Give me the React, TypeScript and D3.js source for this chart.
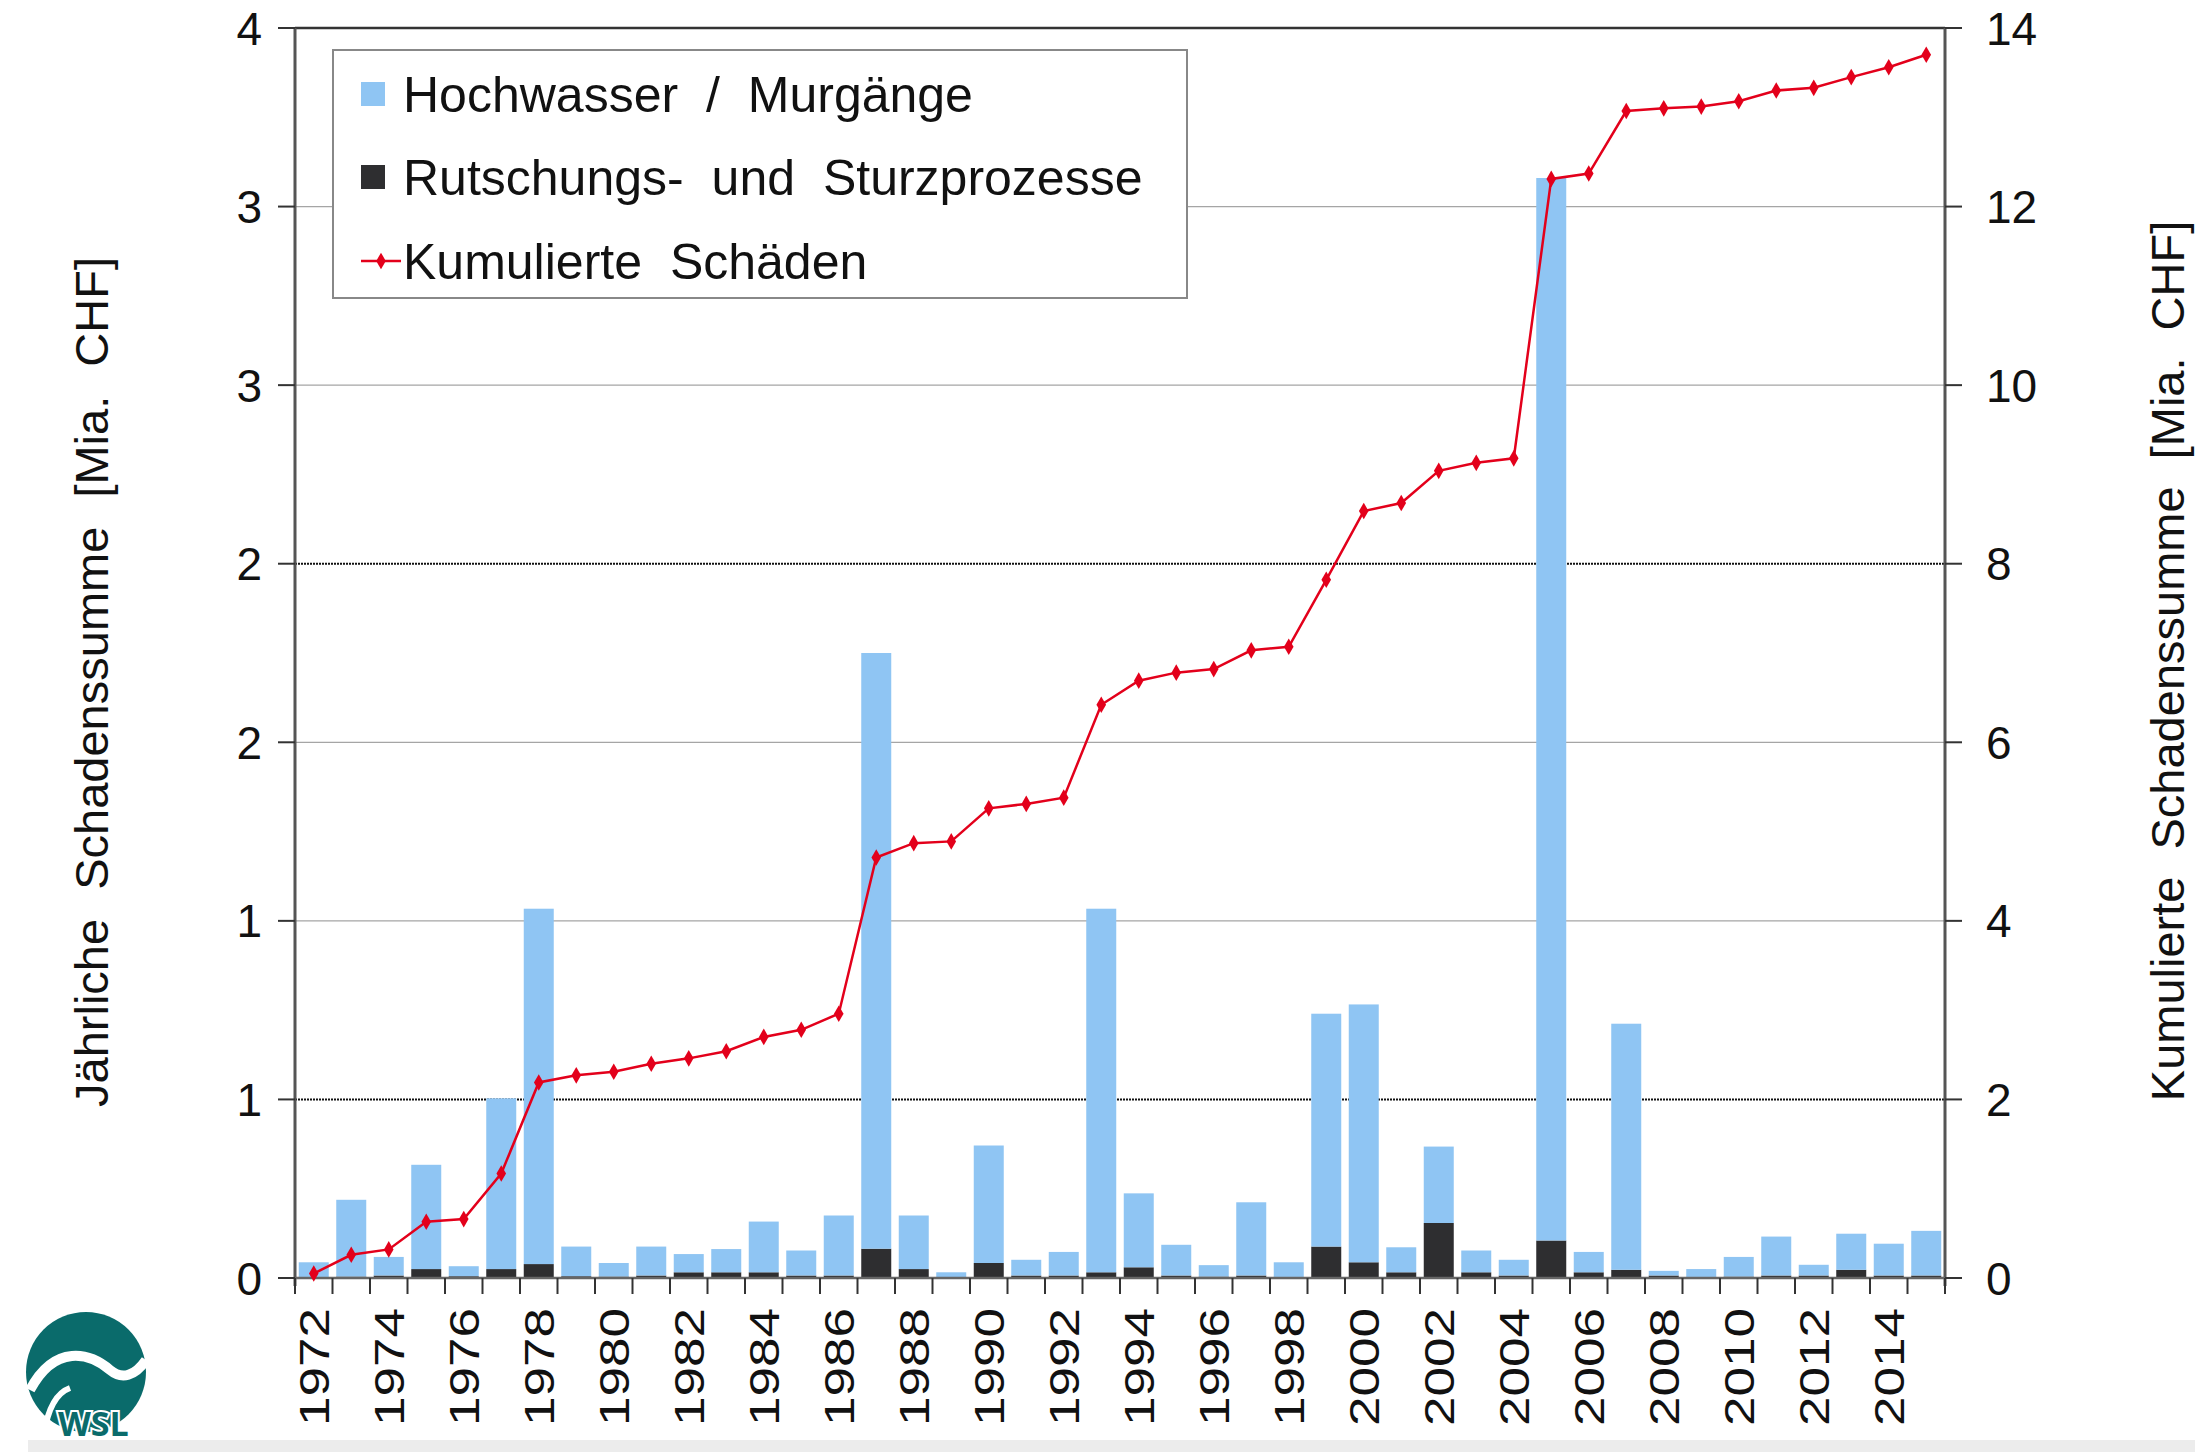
import React, { useRef, useEffect } from "react";
import * as d3 from "d3";

// years (categories)
const years = [
  1972, 1973, 1974, 1975, 1976, 1977, 1978, 1979, 1980, 1981, 1982, 1983,
  1984, 1985, 1986, 1987, 1988, 1989, 1990, 1991, 1992, 1993, 1994, 1995,
  1996, 1997, 1998, 1999, 2000, 2001, 2002, 2003, 2004, 2005, 2006, 2007,
  2008, 2009, 2010, 2011, 2012, 2013, 2014, 2015,
];

// Hochwasser / Murgänge [Mia. CHF]
const hochwasser = [
  0.041, 0.215, 0.052, 0.292, 0.028, 0.478, 0.995, 0.083, 0.038, 0.081, 0.051,
  0.065, 0.142, 0.07, 0.168, 1.668, 0.15, 0.014, 0.329, 0.044, 0.066, 1.018,
  0.207, 0.086, 0.032, 0.205, 0.041, 0.652, 0.722, 0.07, 0.214, 0.061, 0.044,
  2.975, 0.057, 0.689, 0.013, 0.022, 0.055, 0.109, 0.03, 0.101, 0.089, 0.125,
];

// Rutschungs- und Sturzprozesse [Mia. CHF]
const rutschung = [
  0.003, 0.004, 0.007, 0.025, 0.005, 0.025, 0.039, 0.005, 0.004, 0.007, 0.016,
  0.016, 0.016, 0.007, 0.007, 0.082, 0.025, 0.002, 0.042, 0.007, 0.007, 0.016,
  0.03, 0.007, 0.004, 0.007, 0.003, 0.088, 0.044, 0.016, 0.154, 0.016, 0.007,
  0.105, 0.016, 0.023, 0.007, 0.003, 0.004, 0.007, 0.007, 0.023, 0.007, 0.007,
];

// Kumulierte Schäden [Mia. CHF]
const kumuliert = [
  0.05, 0.26, 0.32, 0.63, 0.66, 1.17, 2.19, 2.27, 2.31, 2.4, 2.46, 2.54, 2.7,
  2.78, 2.96, 4.71, 4.87, 4.89, 5.26, 5.31, 5.38, 6.42, 6.69, 6.78, 6.82, 7.03,
  7.07, 7.82, 8.59, 8.68, 9.04, 9.13, 9.18, 12.31, 12.37, 13.07, 13.1, 13.12,
  13.18, 13.3, 13.33, 13.45, 13.56, 13.7,
];

const leftTicks = [0, 0.5, 1, 1.5, 2, 2.5, 3, 3.5];
const leftTickLabels = ["0", "1", "1", "2", "2", "3", "3", "4"];
const rightTicks = [0, 2, 4, 6, 8, 10, 12, 14];
const xTickLabels = [
  "1972", "1974", "1976", "1978", "1980", "1982", "1984", "1986", "1988",
  "1990", "1992", "1994", "1996", "1998", "2000", "2002", "2004", "2006",
  "2008", "2010", "2012", "2014",
];
const seriesNames = [
  "Hochwasser / Murgänge",
  "Rutschungs- und Sturzprozesse",
  "Kumulierte Schäden",
];

const FONT = "'Liberation Sans', Arial, sans-serif";

export default function App() {
  const ref = useRef<SVGSVGElement>(null);

  useEffect(() => {
    const svg = d3.select(ref.current);
    svg.selectAll("*").remove();

    const left = 295;
    const right = 1945;
    const top = 28;
    const bottom = 1278;

    const x = d3
      .scaleBand<string>()
      .domain(years.map(String))
      .range([left, right])
      .paddingInner(0.2)
      .paddingOuter(0.1);
    const y = d3.scaleLinear().domain([0, 3.5]).range([bottom, top]);
    const y2 = d3.scaleLinear().domain([0, 14]).range([bottom, top]);

    const blue = "#8fc5f3";
    const dark = "#2e2e30";
    const red = "#e3001b";

    // bottom strip
    svg
      .append("rect")
      .attr("x", 28)
      .attr("y", 1440)
      .attr("width", 2195 - 28)
      .attr("height", 12)
      .attr("fill", "#ececec");

    // gridlines
    svg
      .selectAll(".grid")
      .data(leftTicks.slice(1))
      .join("line")
      .attr("x1", left)
      .attr("x2", right)
      .attr("y1", (d) => y(d))
      .attr("y2", (d) => y(d))
      .attr("stroke", (d) => (d === 0.5 || d === 2 ? "#111" : d === 3.5 ? "#333" : "#a5a5a5"))
      .attr("stroke-width", (d) => (d === 3.5 ? 2.5 : d === 0.5 || d === 2 ? 2 : 1.3))
      .attr("stroke-dasharray", (d) => (d === 0.5 || d === 2 ? "2,1" : null));

    // stacked bars
    const table = years.map((yr, i) => ({
      year: String(yr),
      rutschung: rutschung[i],
      hochwasser: hochwasser[i],
    }));
    const stack = d3.stack<any>().keys(["rutschung", "hochwasser"]);
    const layers = stack(table);
    const colors: Record<string, string> = { rutschung: dark, hochwasser: blue };

    svg
      .selectAll(".layer")
      .data(layers)
      .join("g")
      .attr("fill", (d) => colors[d.key])
      .selectAll("rect")
      .data((d) => d)
      .join("rect")
      .attr("x", (d: any) => x(d.data.year)!)
      .attr("width", x.bandwidth())
      .attr("y", (d) => y(d[1]))
      .attr("height", (d) => y(d[0]) - y(d[1]));

    // left axis
    svg
      .append("line")
      .attr("x1", left)
      .attr("x2", left)
      .attr("y1", top)
      .attr("y2", bottom + 8)
      .attr("stroke", "#555")
      .attr("stroke-width", 3);
    svg
      .selectAll(".lt")
      .data(leftTicks)
      .join("line")
      .attr("x1", left - 17)
      .attr("x2", left)
      .attr("y1", (d) => y(d))
      .attr("y2", (d) => y(d))
      .attr("stroke", "#333")
      .attr("stroke-width", 2);
    svg
      .selectAll(".ll")
      .data(leftTicks)
      .join("text")
      .attr("x", 262)
      .attr("y", (d) => y(d))
      .attr("dy", "0.36em")
      .attr("text-anchor", "end")
      .attr("font-family", FONT)
      .attr("font-size", 46)
      .attr("fill", "#111")
      .text((d, i) => leftTickLabels[i]);

    // right axis
    svg
      .append("line")
      .attr("x1", right)
      .attr("x2", right)
      .attr("y1", top)
      .attr("y2", bottom + 8)
      .attr("stroke", "#555")
      .attr("stroke-width", 3);
    svg
      .selectAll(".rt")
      .data(rightTicks)
      .join("line")
      .attr("x1", right)
      .attr("x2", right + 17)
      .attr("y1", (d) => y2(d))
      .attr("y2", (d) => y2(d))
      .attr("stroke", "#333")
      .attr("stroke-width", 2);
    svg
      .selectAll(".rl")
      .data(rightTicks)
      .join("text")
      .attr("x", 1986)
      .attr("y", (d) => y2(d))
      .attr("dy", "0.36em")
      .attr("text-anchor", "start")
      .attr("font-family", FONT)
      .attr("font-size", 46)
      .attr("fill", "#111")
      .text((d) => String(d));

    // x axis baseline and ticks
    svg
      .append("line")
      .attr("x1", left)
      .attr("x2", right)
      .attr("y1", bottom)
      .attr("y2", bottom)
      .attr("stroke", "#666")
      .attr("stroke-width", 2.5);
    const step = x.step();
    svg
      .selectAll(".xt")
      .data(d3.range(years.length + 1))
      .join("line")
      .attr("x1", (i) => left + i * step)
      .attr("x2", (i) => left + i * step)
      .attr("y1", bottom)
      .attr("y2", bottom + 16)
      .attr("stroke", "#333")
      .attr("stroke-width", 2);
    svg
      .selectAll(".xl")
      .data(xTickLabels)
      .join("text")
      .attr(
        "transform",
        (d) =>
          `translate(${x(d)! + x.bandwidth() / 2},1308) rotate(-90) scale(1.06,0.86)`
      )
      .attr("dy", "0.36em")
      .attr("text-anchor", "end")
      .attr("font-family", FONT)
      .attr("font-size", 50)
      .attr("fill", "#111")
      .text((d) => d);

    // cumulative line
    const cx = (i: number) => x(String(years[i]))! + x.bandwidth() / 2;
    const line = d3
      .line<number>()
      .x((d, i) => cx(i))
      .y((d) => y2(d));
    svg
      .append("path")
      .attr("d", line(kumuliert))
      .attr("fill", "none")
      .attr("stroke", red)
      .attr("stroke-width", 2.5);
    svg
      .selectAll(".pt")
      .data(kumuliert)
      .join("path")
      .attr("d", d3.symbol().type(d3.symbolDiamond).size(80)())
      .attr("transform", (d, i) => `translate(${cx(i)},${y2(d)})`)
      .attr("fill", red);

    // axis titles
    svg
      .append("text")
      .attr("transform", "translate(91,682) rotate(-90)")
      .attr("dy", "0.36em")
      .attr("text-anchor", "middle")
      .attr("font-family", FONT)
      .attr("font-size", 47)
      .attr("word-spacing", 16)
      .attr("fill", "#111")
      .text("Jährliche Schadenssumme [Mia. CHF]");
    svg
      .append("text")
      .attr("transform", "translate(2167,661) rotate(-90)")
      .attr("dy", "0.36em")
      .attr("text-anchor", "middle")
      .attr("font-family", FONT)
      .attr("font-size", 47)
      .attr("word-spacing", 14)
      .attr("fill", "#111")
      .text("Kumulierte Schadenssumme [Mia. CHF]");

    // legend
    const lg = svg.append("g");
    lg.append("rect")
      .attr("x", 333)
      .attr("y", 50)
      .attr("width", 854)
      .attr("height", 248)
      .attr("fill", "#fff")
      .attr("stroke", "#888")
      .attr("stroke-width", 2);
    const rowY = [94, 177, 261];
    lg.selectAll(".sw")
      .data([blue, dark])
      .join("rect")
      .attr("x", 361)
      .attr("y", (d, i) => rowY[i] - 12)
      .attr("width", 24)
      .attr("height", 24)
      .attr("fill", (d) => d);
    lg.append("line")
      .attr("x1", 361)
      .attr("x2", 401)
      .attr("y1", rowY[2])
      .attr("y2", rowY[2])
      .attr("stroke", red)
      .attr("stroke-width", 2.5);
    lg.append("path")
      .attr("d", d3.symbol().type(d3.symbolDiamond).size(80)())
      .attr("transform", `translate(381,${rowY[2]})`)
      .attr("fill", red);
    lg.selectAll(".lt")
      .data(seriesNames)
      .join("text")
      .attr("x", 403)
      .attr("y", (d, i) => rowY[i])
      .attr("dy", "0.36em")
      .attr("font-family", FONT)
      .attr("font-size", 50)
      .attr("word-spacing", 14)
      .attr("fill", "#111")
      .text((d) => d);

    // WSL logo
    const logo = svg.append("g");
    logo
      .append("circle")
      .attr("cx", 86)
      .attr("cy", 1372)
      .attr("r", 60)
      .attr("fill", "#0a6b6b");
    logo
      .append("path")
      .attr("d", "M30,1390 C55,1343 90,1353 110,1370 C122,1380 135,1376 146,1360")
      .attr("fill", "none")
      .attr("stroke", "#fff")
      .attr("stroke-width", 10);
    logo
      .append("path")
      .attr("d", "M44,1434 C48,1408 56,1393 70,1388")
      .attr("fill", "none")
      .attr("stroke", "#fff")
      .attr("stroke-width", 6);
    logo
      .append("text")
      .attr("x", 58)
      .attr("y", 1436)
      .attr("font-family", "'Open Sans', Arial, sans-serif")
      .attr("font-weight", "bold")
      .attr("font-size", 34)
      .attr("fill", "#0a6b6b")
      .attr("stroke", "#fff")
      .attr("stroke-width", 4)
      .attr("paint-order", "stroke")
      .text("WSL");
  });

  return (
    <div style={{ position: "absolute", left: 0, top: 0 }}>
      <svg ref={ref} width={2195} height={1452} style={{ display: "block", background: "#fff" }} />
    </div>
  );
}
